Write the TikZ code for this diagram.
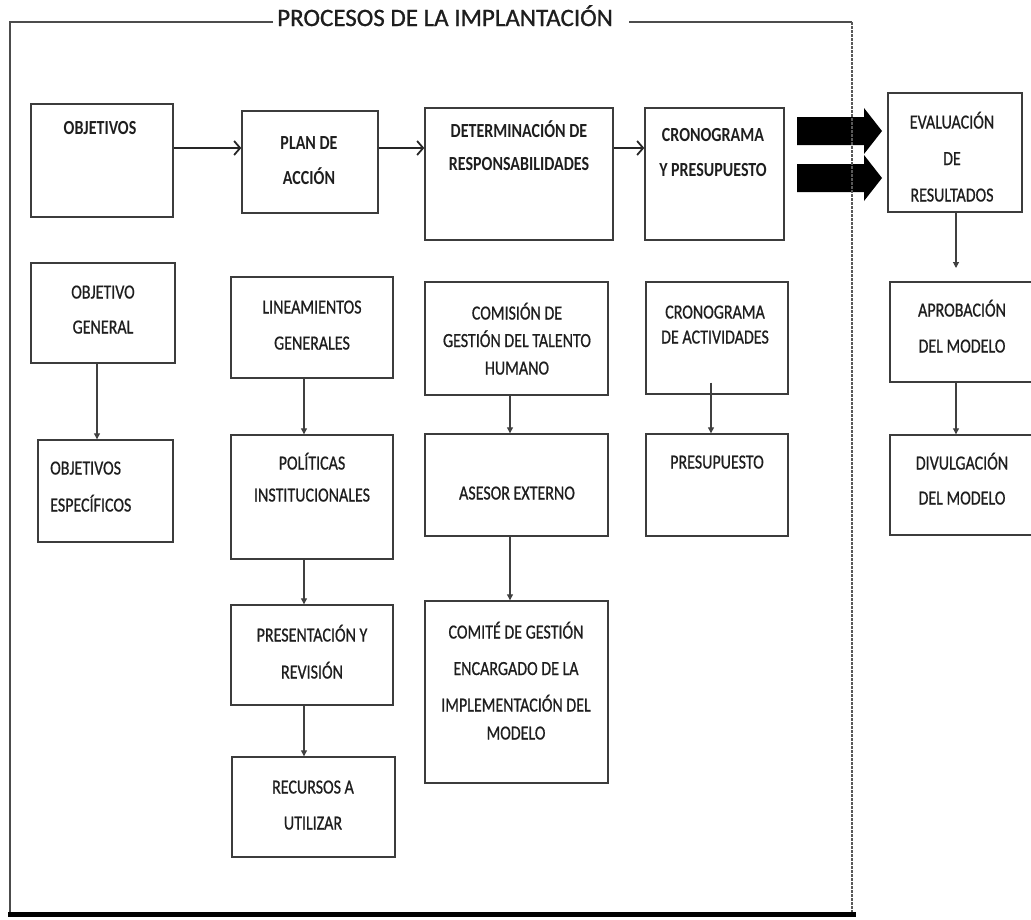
\documentclass[tikz,border=0pt]{standalone}
\usepackage{fontspec}
\setmainfont{Carlito}[FakeStretch=0.8, UprightFeatures={FakeBold=0.7}]
\newfontfamily\titlefont{Carlito}[FakeBold=0.9]
\usetikzlibrary{arrows.meta}
\definecolor{boxgray}{HTML}{3C3C3C}
\definecolor{inkgray}{HTML}{1E1E1E}

\begin{document}
\begin{tikzpicture}[x=1pt,y=-1pt,
  % box given by its corners x1/y1/x2/y2
  rect/.style args={#1/#2/#3/#4}{draw=boxgray, line width=1.4pt, inner sep=0pt,
    minimum width=#3-#1, minimum height=#4-#2, at={({(#1+#3)/2},{(#2+#4)/2})}},
  % labels are placed by the baseline of their last line
  lbl/.style={font=\fontsize{20}{#1}\selectfont, text=inkgray, align=center,
    anchor=base, inner sep=0pt},
  lbl/.default=35,
  blbl/.style={lbl=#1, font=\fontsize{20}{#1}\selectfont\bfseries},
  blbl/.default=35,
  harrow/.style={draw=black!85, line width=1.8pt, -{Straight Barb[length=6pt,width=14pt]}},
  varrow/.style={draw=black!75, line width=1.1pt, -{Triangle[length=6pt,width=6pt]}},
  frame/.style={draw=black!70, line width=1.3pt},
  blockarrow/.style={fill=black}
]
\useasboundingbox (0,0) rectangle (1031,919);

% ---- frame of the implementation stage
\coordinate (tl) at (10,22);
\coordinate (tr) at (852,22);
\coordinate (bl) at (10,912);
\coordinate (br) at (852,912);
\node[font=\titlefont\fontsize{25}{30}\selectfont, text=inkgray, anchor=base west,
  inner xsep=4pt, inner ysep=0pt] (title) at (273,26) {PROCESOS DE LA IMPLANTACIÓN};
\draw[frame] (title.west |- tl) -- (tl) -- (bl);
\draw[frame] ([xshift=12pt]title.east |- tl) -- (tr);

% ---- block arrows towards the evaluation
\fill[blockarrow] (797,117) -- (864,117) -- (864,108) -- (882,131) -- (864,154) -- (864,145) -- (797,145) -- cycle;
\fill[blockarrow] (797,164) -- (864,164) -- (864,155) -- (882,178) -- (864,201) -- (864,192) -- (797,192) -- cycle;

\draw[draw=black!65, line width=1.2pt, dash pattern=on 2.5pt off 1.5pt] (tr) -- (br);
\draw[line width=5pt] (8,914) -- (856,914);

% ---- main stages
\node[rect=31/104/173/217] (obj) {};
\node[rect=242/111/378/213] (plan) {};
\node[rect=425/108/613/240] (det) {};
\node[rect=645/108/784/240] (cron) {};
\node[rect=888/93/1022/212] (eval) {};

\node[blbl] (objT) at (100,134.5) {OBJETIVOS};
\node[blbl=35] (planT) at (309,184.5) {PLAN DE\\ACCIÓN};
\node[blbl=33] (detT) at (519,170.5) {DETERMINACIÓN DE\\RESPONSABILIDADES};
\node[blbl=35] (cronT) at (713,176.5) {CRONOGRAMA\\Y PRESUPUESTO};
\node[lbl=36.5] (evalT) at (952,201.5) {EVALUACIÓN\\DE\\RESULTADOS};

% ---- details of each stage
\node[rect=31/263/175/363] (objG) {};
\node[rect=38/440/173/542] (objE) {};
\node[rect=231/277/393/378] (lin) {};
\node[rect=231/435/393/559] (pol) {};
\node[rect=231/605/393/705] (pres) {};
\node[rect=232/757/395/857] (rec) {};
\node[rect=425/282/608/395] (com) {};
\node[rect=425/434/608/536] (ase) {};
\node[rect=425/601/608/783] (comite) {};
\node[rect=646/282/788/394] (cact) {};
\node[rect=646/434/788/536] (presu) {};
\node[rect=890/282/1036/382] (apro) {};
\node[rect=890/435/1036/535] (div) {};

\node[lbl=35] (objGT) at (103,333.5) {OBJETIVO\\GENERAL};
\node[lbl=37, align=left, anchor=base west] (objET) at (50,511.5) {OBJETIVOS\\ESPECÍFICOS};
\node[lbl=36] (linT) at (312,349.5) {LINEAMIENTOS\\GENERALES};
\node[lbl=32] (polT) at (312,501.5) {POLÍTICAS\\INSTITUCIONALES};
\node[lbl=37] (presT) at (312,678.5) {PRESENTACIÓN Y\\REVISIÓN};
\node[lbl=36] (recT) at (313,829.5) {RECURSOS A\\UTILIZAR};
\node[lbl=27.5] (comT) at (517,374.5) {COMISIÓN DE\\GESTIÓN DEL TALENTO\\HUMANO};
\node[lbl] (aseT) at (517,499.5) {ASESOR EXTERNO};
\node[lbl=36.5] (comiteT) at (516,739.5) {COMITÉ DE GESTIÓN\\ENCARGADO DE LA\\IMPLEMENTACIÓN DEL\\[-8.5pt]MODELO};
\node[lbl=25] (cactT) at (715,343.5) {CRONOGRAMA\\DE ACTIVIDADES};
\node[lbl] (presuT) at (717,468.5) {PRESUPUESTO};
\node[lbl=36] (aproT) at (962,352.5) {APROBACIÓN\\DEL MODELO};
\node[lbl=35] (divT) at (962,504.5) {DIVULGACIÓN\\DEL MODELO};

% ---- connectors
\coordinate (rowA) at (0,148);
\draw[harrow] (obj.east |- rowA) -- (plan.west |- rowA);
\draw[harrow] (plan.east |- rowA) -- (det.west |- rowA);
\draw[harrow] (det.east |- rowA) -- (cron.west |- rowA);

\coordinate (colA) at (97,0);
\coordinate (colB) at (304,0);
\coordinate (colC) at (510,0);
\coordinate (colD) at (711,0);
\coordinate (colE) at (956,0);
\coordinate (evalEnd) at (956,268);

\draw[varrow] (objG.south -| colA) -- (objE.north -| colA);
\draw[varrow] (lin.south -| colB) -- (pol.north -| colB);
\draw[varrow] (pol.south -| colB) -- (pres.north -| colB);
\draw[varrow] (pres.south -| colB) -- (rec.north -| colB);
\draw[varrow] (com.south -| colC) -- (ase.north -| colC);
\draw[varrow] (ase.south -| colC) -- (comite.north -| colC);
\draw[varrow] ([yshift=12pt]cact.south -| colD) -- (presu.north -| colD);
\draw[varrow] (eval.south -| colE) -- (evalEnd);
\draw[varrow] (apro.south -| colE) -- (div.north -| colE);
\end{tikzpicture}
\end{document}
